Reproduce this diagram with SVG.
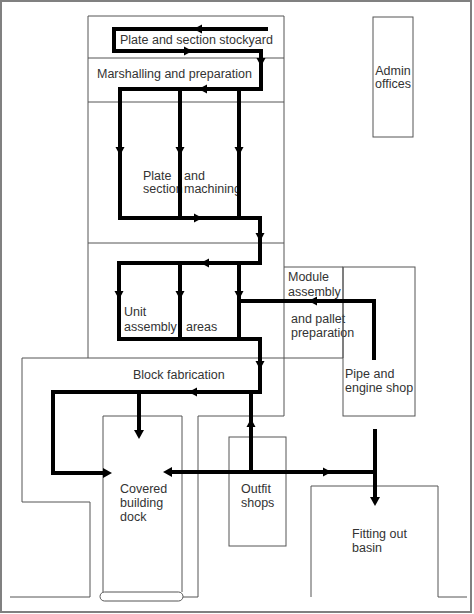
<svg xmlns="http://www.w3.org/2000/svg" width="474" height="614" viewBox="0 0 474 614">
<style>
.o{fill:none;stroke:#555;stroke-width:1}
.f{fill:none;stroke:#000;stroke-width:4;stroke-linejoin:miter}
.t{font-family:"Liberation Sans",Arial,sans-serif;font-size:12.5px;fill:#333}
.a{fill:#000}
</style>
<defs>
<path id="m" d="M-4,-4.5 L4.5,0 L-4,4.5 Z"/>
<path id="e" d="M-9,-5 L0,0 L-9,5 Z"/>
</defs>
<rect x="0" y="0" width="474" height="614" fill="#fff"/>
<rect x="1" y="1" width="470" height="611" fill="#fff" stroke="#808080" stroke-width="2"/>
<g id="outlines">
<path class="o" d="M88,16 H284 V416 M88,16 V358 M88,58 H284 M88,102 H284 M88,243 H284"/>
<path class="o" d="M10,597 H90 V502 H22 V358 H343"/>
<path class="o" d="M284,416 H198 V597 H183"/>
</g>
<g id="stockyard"><text class="t" x="120" y="43.5">Plate and section stockyard</text></g>
<g id="marshalling"><text class="t" x="97" y="77.5">Marshalling and preparation</text></g>
<g id="plate-section"><text class="t" x="143" y="179.5">Plate</text><text class="t" x="143" y="192.5">section</text><text class="t" x="184" y="179.5">and</text><text class="t" x="184" y="192.5">machining</text></g>
<g id="unit-assembly"><text class="t" x="124" y="315.5">Unit</text><text class="t" x="124" y="330.5">assembly</text><text class="t" x="186" y="330.5">areas</text></g>
<g id="module"><path class="o" d="M284,267 H343 V358"/><text class="t" x="288" y="280.5">Module</text><text class="t" x="288" y="295.5">assembly</text><text class="t" x="291" y="322.5">and pallet</text><text class="t" x="291" y="336.5">preparation</text></g>
<g id="pipe-shop"><rect class="o" x="343" y="267" width="72" height="149"/><text class="t" x="345" y="377.5">Pipe and</text><text class="t" x="345" y="391.5">engine shop</text></g>
<g id="block-fabrication"><text class="t" x="133" y="378.5">Block fabrication</text></g>
<g id="dock"><path class="o" d="M103,592 V416 H182 V592"/><rect class="o" x="100" y="592" width="83" height="9" rx="4.5"/><text class="t" x="120" y="492.5">Covered</text><text class="t" x="120" y="506.5">building</text><text class="t" x="120" y="520.5">dock</text></g>
<g id="outfit"><rect class="o" x="229" y="437" width="57" height="109"/><text class="t" x="241" y="492.5">Outfit</text><text class="t" x="241" y="506.5">shops</text></g>
<g id="basin"><path class="o" d="M311,597 V486 H438 V597 H467"/><text class="t" x="352" y="537.5">Fitting out</text><text class="t" x="352" y="551.5">basin</text></g>
<g id="admin"><rect class="o" x="373" y="17" width="40" height="120"/><text class="t" x="393" y="74.5" text-anchor="middle">Admin</text><text class="t" x="393" y="87.5" text-anchor="middle">offices</text></g>
<g id="connectors">
<path class="f" d="M268,29 H114 V51 H261 V89 H120 V218 H260 V263 H119 V339 H260 V392 H53 V473 H105"/>
<path class="f" d="M180,89 V218 M239,89 V218 M180,263 V339 M239,263 V339"/>
<path class="f" d="M374,360 V301 H239"/>
<path class="f" d="M139,392 V432"/>
<path class="f" d="M251,392 V472"/>
<path class="f" stroke-width="6" d="M251,423 V472"/>
<path class="f" d="M170,472 H375"/>
<path class="f" d="M375,429 V499"/>
<use href="#m" class="a" transform="translate(198,29) rotate(180)"/>
<use href="#m" class="a" transform="translate(188,51)"/>
<use href="#m" class="a" transform="translate(261,62) rotate(90)"/>
<use href="#m" class="a" transform="translate(203,89) rotate(180)"/>
<use href="#m" class="a" transform="translate(120,151) rotate(90)"/>
<use href="#m" class="a" transform="translate(180,151) rotate(90)"/>
<use href="#m" class="a" transform="translate(239,151) rotate(90)"/>
<use href="#m" class="a" transform="translate(198,218)"/>
<use href="#m" class="a" transform="translate(260,237) rotate(90)"/>
<use href="#m" class="a" transform="translate(205,263) rotate(180)"/>
<use href="#m" class="a" transform="translate(119,295) rotate(90)"/>
<use href="#m" class="a" transform="translate(180,295) rotate(90)"/>
<use href="#m" class="a" transform="translate(239,295) rotate(90)"/>
<use href="#m" class="a" transform="translate(260,365) rotate(90)"/>
<use href="#m" class="a" transform="translate(193,392) rotate(180)"/>
<use href="#m" class="a" transform="translate(313,301) rotate(180)"/>
<use href="#m" class="a" transform="translate(251,423) rotate(-90)"/>
<use href="#m" class="a" transform="translate(327,472)"/>
<use href="#e" class="a" transform="translate(112,473)"/>
<use href="#e" class="a" transform="translate(163,472) rotate(180)"/>
<use href="#e" class="a" transform="translate(139,439) rotate(90)"/>
<use href="#e" class="a" transform="translate(375,506) rotate(90)"/>
</g>
</svg>
